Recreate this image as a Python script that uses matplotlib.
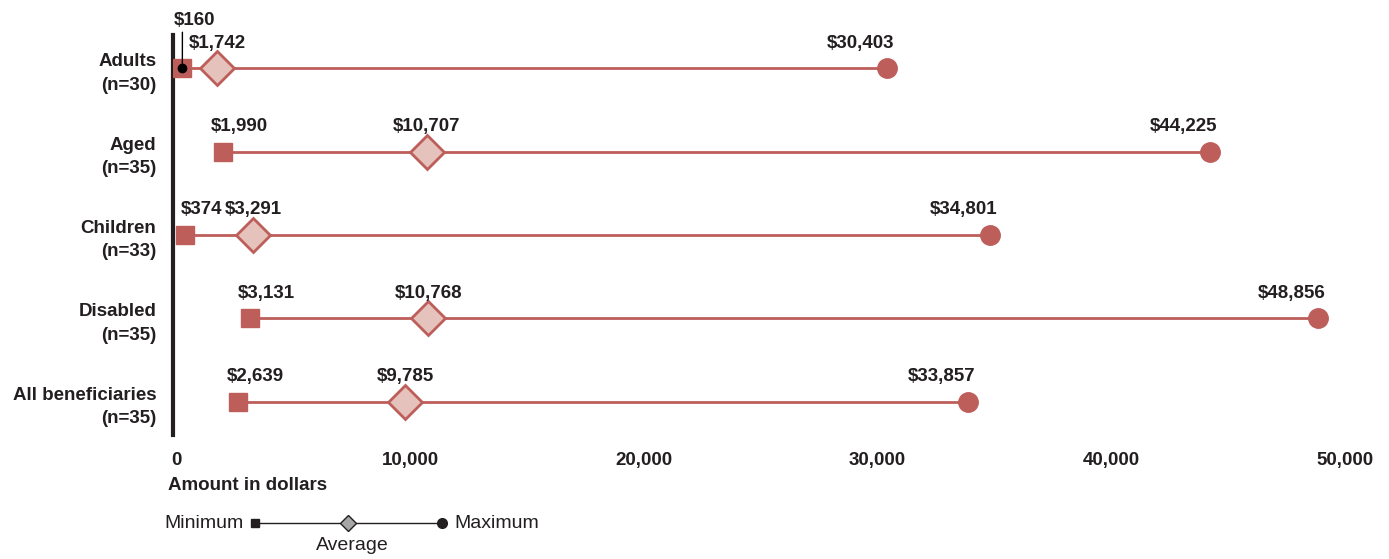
import matplotlib.pyplot as plt

plt.rcParams["font.family"] = ["Liberation Sans", "DejaVu Sans"]

groups = ["Adults\n(n=30)", "Aged\n(n=35)", "Children\n(n=33)", "Disabled\n(n=35)",
          "All beneficiaries\n(n=35)"]
minimum = [160, 1990, 374, 3131, 2639]
average = [1742, 10707, 3291, 10768, 9785]
maximum = [30403, 44225, 34801, 48856, 33857]
xticks = [0, 10000, 20000, 30000, 40000, 50000]

red = "#BD5E5A"
pink = "#E6C2BC"
ink = "#231F20"
fs = 13.5

fig = plt.figure(figsize=(13.89, 5.59), dpi=100)
ax = fig.add_axes([173 / 1389, 1 - 435 / 559, (1345 - 173) / 1389, 400 / 559])
ax.set_xlim(-150, 50000)
ax.set_ylim(4.4, -0.4)

for i, (lo, mid, hi) in enumerate(zip(minimum, average, maximum)):
    ax.plot([lo, hi], [i, i], color=red, lw=2, zorder=1)
    lo_x = max(lo, 250)
    ax.plot(lo_x, i, marker="s", ms=13, color=red, zorder=3)
    ax.plot(mid, i, marker="D", ms=17, mfc=pink, mec=red, mew=2, zorder=3)
    ax.plot(hi, i, marker="o", ms=14, color=red, zorder=3)
    # value labels above the markers
    ax.annotate(f"${mid:,}", (mid, i), xytext=(0, 12), textcoords="offset points",
                ha="center", va="bottom", fontsize=fs, fontweight="bold", color=ink)
    ax.annotate(f"${hi:,}", (hi, i), xytext=(-19, 12), textcoords="offset points",
                ha="center", va="bottom", fontsize=fs, fontweight="bold", color=ink)
    if i == 0:
        ax.plot(lo_x, i, marker="o", ms=6, color="black", zorder=4)
        ax.annotate(f"${lo:,}", (lo_x, i), xytext=(9, 28), textcoords="offset points",
                    ha="center", va="bottom", fontsize=fs, fontweight="bold", color=ink,
                    arrowprops=dict(arrowstyle="-", color="black", lw=1,
                                    shrinkA=0, shrinkB=0, relpos=(0.2, 0)))
    else:
        ax.annotate(f"${lo:,}", (lo_x, i), xytext=(12, 12), textcoords="offset points",
                    ha="center", va="bottom", fontsize=fs, fontweight="bold", color=ink)

ax.set_xticks(xticks)
ax.set_xticklabels([f"{t:,}" for t in xticks], fontsize=fs, fontweight="bold", color=ink)
ax.set_yticks(range(len(groups)))
ax.set_yticklabels(groups, fontsize=fs, fontweight="bold", color=ink, linespacing=1.5)
ax.tick_params(axis="x", length=0, pad=12)
ax.tick_params(axis="y", length=0, pad=12)
for s in ["top", "right", "bottom"]:
    ax.spines[s].set_visible(False)
ax.spines["left"].set_linewidth(3)
ax.spines["left"].set_color(ink)

fig.text(168 / 1389, 1 - 485 / 559, "Amount in dollars", fontsize=fs, fontweight="bold",
         color=ink, va="center", ha="left")

# legend key
lg = fig.add_axes([0, 0, 1, 1], facecolor="none")
lg.set_xlim(0, 1389)
lg.set_ylim(559, 0)
lg.axis("off")
lg.plot([255, 442], [523, 523], color=ink, lw=1)
lg.plot(255, 523, marker="s", ms=6, color=ink)
lg.plot(348, 523, marker="D", ms=8, mfc="#A6A6A6", mec=ink, mew=1)
lg.plot(442, 523, marker="o", ms=7, color=ink)
lg.text(244, 523, "Minimum", fontsize=14, ha="right", va="center", color=ink)
lg.text(454, 524, "Maximum", fontsize=14, ha="left", va="center", color=ink)
lg.text(352, 546, "Average", fontsize=14, ha="center", va="center", color=ink)

fig.savefig("out.png", dpi=100)
